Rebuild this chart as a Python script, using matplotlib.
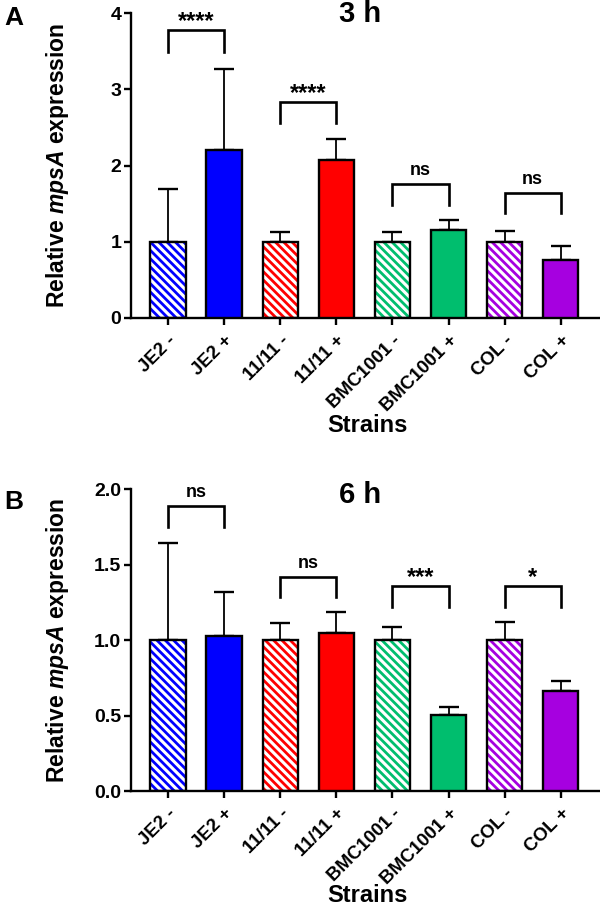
import matplotlib
matplotlib.use("Agg")
import matplotlib.pyplot as plt
import numpy as np

plt.rcParams['font.family'] = ['Liberation Sans', 'DejaVu Sans']
plt.rcParams['font.weight'] = 'bold'
plt.rcParams['mathtext.fontset'] = 'custom'
plt.rcParams['mathtext.it'] = 'Liberation Sans:italic:bold'
plt.rcParams['mathtext.rm'] = 'Liberation Sans:bold'
plt.rcParams['hatch.linewidth'] = 2.0

categories = ["JE2 -", "JE2 +", "11/11 -", "11/11 +", "BMC1001 -", "BMC1001 +", "COL -", "COL +"]
colors = ["#0000FF", "#0000FF", "#FF0000", "#FF0000", "#00BE6E", "#00BE6E", "#A600E0", "#A600E0"]
hatched = [True, False, True, False, True, False, True, False]

mean_3h = [1.0, 2.2, 1.0, 2.08, 1.0, 1.16, 1.0, 0.76]
err_3h = [0.70, 1.07, 0.13, 0.27, 0.13, 0.13, 0.14, 0.19]
mean_6h = [1.0, 1.03, 1.0, 1.05, 1.0, 0.505, 1.0, 0.665]
err_6h = [0.645, 0.29, 0.116, 0.135, 0.085, 0.053, 0.12, 0.065]

# brackets: (left index, right index, top y, leg bottom y, label)
brackets_3h = [(0, 1, 3.78, 3.49, "****"), (2, 3, 2.83, 2.56, "****"),
               (4, 5, 1.76, 1.48, "ns"), (6, 7, 1.64, 1.38, "ns")]
brackets_6h = [(0, 1, 1.89, 1.75, "ns"), (2, 3, 1.42, 1.283, "ns"),
               (4, 5, 1.355, 1.217, "***"), (6, 7, 1.355, 1.217, "*")]

W, H = 600, 907
fig = plt.figure(figsize=(W / 100, H / 100), dpi=100)


def px_axes(x0, y_top, x1, y_bot):
    return fig.add_axes([x0 / W, 1 - y_bot / H, (x1 - x0) / W, (y_bot - y_top) / H])


def draw_panel(ax, means, errs, brackets, ylim, yticks, yticklabels, title,
               title_y, strains_y):
    x = np.arange(len(categories))
    width = 0.63
    for i in range(len(categories)):
        if hatched[i]:
            ax.bar(x[i], means[i], width, color="white", edgecolor=colors[i],
                   hatch="\\\\\\\\", linewidth=0, zorder=2)
            ax.bar(x[i], means[i], width, fill=False, edgecolor="black",
                   linewidth=1.7, zorder=3)
        else:
            ax.bar(x[i], means[i], width, color=colors[i], edgecolor="black",
                   linewidth=1.7, zorder=3)
    ax.errorbar(x, means, yerr=[np.zeros(len(errs)), errs], fmt="none",
                ecolor="black", elinewidth=1.3, capsize=7, capthick=1.7, zorder=1)
    for (a, b, top, bot, lab) in brackets:
        ax.plot([x[a], x[a], x[b], x[b]], [bot, top, top, bot], color="black",
                lw=1.9, solid_joinstyle="miter", zorder=4)
        if "*" in lab:
            ax.annotate(lab, ((x[a] + x[b]) / 2, top), xytext=(0, 2),
                        textcoords="offset pixels", ha="center", va="baseline",
                        fontsize=17, fontweight="bold")
        else:
            ax.annotate(lab, ((x[a] + x[b]) / 2, top), xytext=(0, 5),
                        textcoords="offset pixels", ha="center", va="bottom",
                        fontsize=13, fontweight="bold")
    ax.set_xlim(-0.66, 7.7)
    ax.set_ylim(*ylim)
    ax.set_yticks(yticks)
    ax.set_yticklabels(yticklabels, fontsize=14, fontweight="bold")
    ax.set_xticks(x)
    ax.set_xticklabels(categories, rotation=45, ha="right", rotation_mode="anchor",
                       fontsize=13.5, fontweight="bold")
    for s in ["top", "right"]:
        ax.spines[s].set_visible(False)
    for s in ["left", "bottom"]:
        ax.spines[s].set_linewidth(1.7)
    ax.tick_params(axis="both", width=1.7, length=5, direction="out", pad=2)
    ax.tick_params(axis="x", pad=5)
    ax.set_ylabel(r"Relative $\mathit{mpsA}$ expression", fontsize=16.5,
                  fontweight="bold")
    ax.yaxis.set_label_coords((71 - 131) / 469, 0.5)
    fig.text(367 / W, 1 - strains_y / H, "Strains", fontsize=17, fontweight="bold",
             ha="center", va="center")
    fig.text(360 / W, 1 - title_y / H, title, fontsize=21, fontweight="bold",
             ha="center", va="center")


axA = px_axes(131, 13.3, 600, 318)
draw_panel(axA, mean_3h, err_3h, brackets_3h, (0, 4), [0, 1, 2, 3, 4],
           ["0", "1", "2", "3", "4"], "3 h", 14, 426)
axB = px_axes(131, 489, 600, 791.3)
draw_panel(axB, mean_6h, err_6h, brackets_6h, (0, 2.0), [0, 0.5, 1.0, 1.5, 2.0],
           ["0.0", "0.5", "1.0", "1.5", "2.0"], "6 h", 495, 896)

fig.text(14 / W, 1 - 18 / H, "A", fontsize=19, fontweight="bold", ha="center", va="center")
fig.text(14 / W, 1 - 502 / H, "B", fontsize=19, fontweight="bold", ha="center", va="center")

fig.savefig("out.png", dpi=100)
